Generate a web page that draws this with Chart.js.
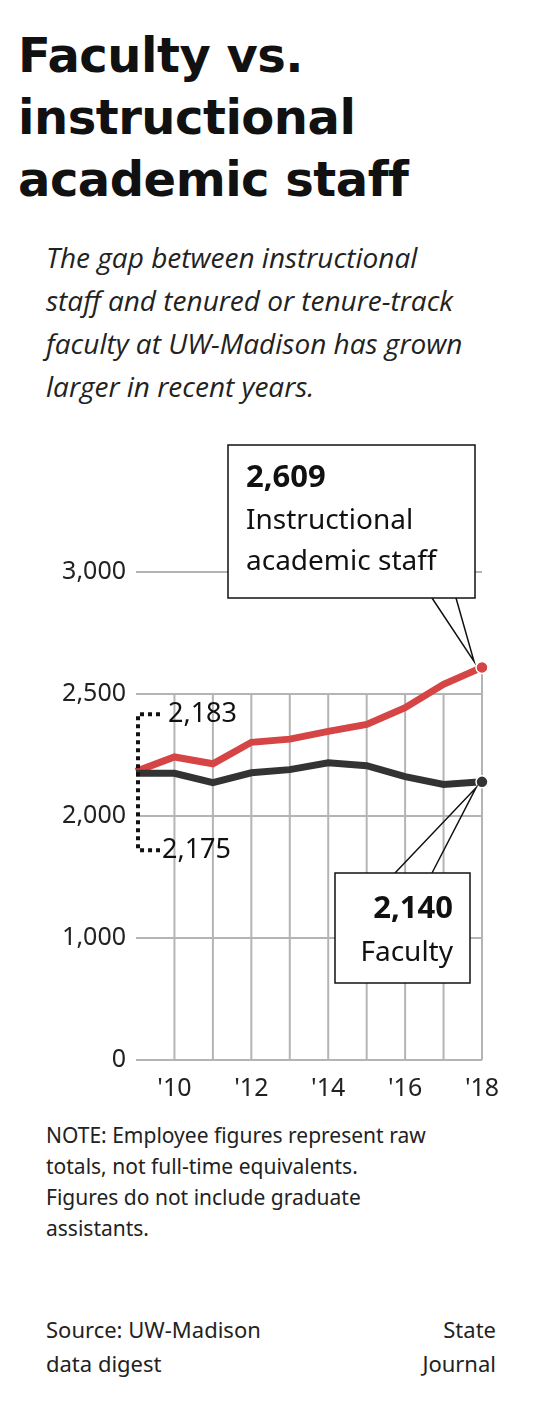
<!DOCTYPE html>
<html>
<head>
<meta charset="utf-8">
<script src="https://cdn.jsdelivr.net/npm/chart.js@4"></script>
<style>
  body { margin: 0; width: 533px; height: 1407px; background: #fff; position: relative; font-family: "Open Sans", sans-serif; color: #111; overflow: hidden; }
  #title { position: absolute; left: 18px; top: 24px; font: bold 48px/62px "DejaVu Sans", sans-serif; letter-spacing: -0.5px; margin: 0; white-space: nowrap; }
  #sub { position: absolute; left: 46px; top: 236px; width: 480px; font: italic 28px/43px "Open Sans", sans-serif; color: #222; white-space: nowrap; }
  #chart { position: absolute; left: 0; top: 430px; }
  #note { position: absolute; left: 46px; top: 1120px; width: 480px; font: 21px/31px "Noto Sans", sans-serif; color: #222; white-space: nowrap; }
  #src { position: absolute; left: 46px; top: 1312px; font: 22px/34px "Noto Sans", sans-serif; color: #222; }
  #credit { position: absolute; right: 37px; top: 1312px; text-align: right; font: 22px/34px "Noto Sans", sans-serif; color: #222; }
</style>
</head>
<body>
<h1 id="title">Faculty vs.<br>instructional<br>academic staff</h1>
<div id="sub">The gap between instructional<br>staff and tenured or tenure-track<br>faculty at UW-Madison has grown<br>larger in recent years.</div>
<canvas id="chart" width="533" height="680"></canvas>
<div id="note">NOTE: Employee figures represent raw<br>totals, not full-time equivalents.<br>Figures do not include graduate<br>assistants.</div>
<div id="src">Source: UW-Madison<br>data digest</div>
<div id="credit">State<br>Journal</div>
<script>
const years = [2009, 2010, 2011, 2012, 2013, 2014, 2015, 2016, 2017, 2018];
const yearLabels = ["", "'10", "", "'12", "", "'14", "", "'16", "", "'18"];
const staff = [2183, 2242, 2214, 2302, 2315, 2347, 2375, 2444, 2540, 2609];
const faculty = [2175, 2175, 2137, 2177, 2190, 2218, 2206, 2161, 2129, 2140];
const tickValues = [0, 1000, 2000, 2500, 3000];

// broken scale: 1,000 per step below 2,000, 500 per step above
const toAxis = v => v < 2000 ? v / 1000 : 2 + (v - 2000) / 500;
const fmt = v => v.toLocaleString('en-US');

const callouts = {
  id: 'callouts',
  beforeDatasetsDraw(chart) {
    const { ctx, scales: { x, y } } = chart;
    ctx.save();
    ctx.strokeStyle = '#b4b4b4';
    ctx.lineWidth = 2;
    years.forEach((yr, i) => {
      if (i === 0) return;
      const px = x.getPixelForValue(i);
      const top = i === years.length - 1 ? y.getPixelForValue(toAxis(staff[i])) : y.getPixelForValue(3);
      ctx.beginPath();
      ctx.moveTo(px, y.getPixelForValue(0));
      ctx.lineTo(px, top);
      ctx.stroke();
    });
    ctx.restore();
  },
  afterDraw(chart) {
    const { ctx, scales: { x, y } } = chart;
    const last = years.length - 1;
    const lx = x.getPixelForValue(last);
    const sy = y.getPixelForValue(toAxis(staff[last]));
    const fy = y.getPixelForValue(toAxis(faculty[last]));
    ctx.save();
    // dotted bracket for first values
    const bx = x.getPixelForValue(0) + 2;
    const t1 = y.getPixelForValue(toAxis(2183)) - 57;
    const t2 = y.getPixelForValue(toAxis(2175)) + 77;
    ctx.setLineDash([4, 4]);
    ctx.lineWidth = 4;
    ctx.strokeStyle = '#111';
    ctx.beginPath();
    ctx.moveTo(bx + 22, t1); ctx.lineTo(bx, t1); ctx.lineTo(bx, t2); ctx.lineTo(bx + 22, t2);
    ctx.stroke();
    ctx.setLineDash([]);
    ctx.fillStyle = '#111';
    ctx.font = '27px "Noto Sans", sans-serif';
    ctx.textBaseline = 'middle';
    ctx.fillText(fmt(staff[0]), bx + 30, t1);
    ctx.fillText(fmt(faculty[0]), bx + 24, t2);

    // staff callout
    ctx.lineWidth = 1.5;
    ctx.strokeStyle = '#111';
    const b1 = { l: 228, t: 445 - 430, r: 475, b: 598 - 430 };
    ctx.beginPath();
    ctx.moveTo(432, b1.b); ctx.lineTo(lx - 8, sy - 6); ctx.lineTo(456, b1.b);
    ctx.stroke();
    ctx.fillStyle = '#fff';
    ctx.fillRect(b1.l, b1.t, b1.r - b1.l, b1.b - b1.t);
    ctx.strokeRect(b1.l, b1.t, b1.r - b1.l, b1.b - b1.t);
    ctx.fillStyle = '#111';
    ctx.textBaseline = 'alphabetic';
    ctx.font = 'bold 31px "Noto Sans", sans-serif';
    ctx.fillText(fmt(staff[last]), 246, 57);
    ctx.font = '28px "Noto Sans", sans-serif';
    ctx.fillText('Instructional', 246, 99);
    ctx.fillText('academic staff', 246, 140);

    // faculty callout
    const b2 = { l: 335, t: 873 - 430, r: 470, b: 983 - 430 };
    ctx.beginPath();
    ctx.moveTo(395, b2.t); ctx.lineTo(lx - 6, fy + 6); ctx.lineTo(432, b2.t);
    ctx.stroke();
    ctx.fillStyle = '#fff';
    ctx.fillRect(b2.l, b2.t, b2.r - b2.l, b2.b - b2.t);
    ctx.strokeRect(b2.l, b2.t, b2.r - b2.l, b2.b - b2.t);
    ctx.fillStyle = '#111';
    ctx.textAlign = 'right';
    ctx.font = 'bold 31px "Noto Sans", sans-serif';
    ctx.fillText(fmt(faculty[last]), 453, b2.t + 45);
    ctx.font = '28px "Noto Sans", sans-serif';
    ctx.fillText('Faculty', 453, b2.t + 88);
    ctx.restore();
  }
};

const pointSizes = years.map((_, i) => i === years.length - 1 ? 6 : 0);

new Chart(document.getElementById('chart'), {
  type: 'line',
  data: {
    labels: yearLabels,
    datasets: [
      { data: faculty.map(toAxis), borderColor: '#333', backgroundColor: '#333', borderWidth: 7,
        pointRadius: pointSizes, pointBorderColor: '#fff', pointBorderWidth: 1.5, tension: 0 },
      { data: staff.map(toAxis), borderColor: '#d64545', backgroundColor: '#d64545', borderWidth: 7,
        pointRadius: pointSizes, pointBorderColor: '#fff', pointBorderWidth: 1.5, tension: 0 }
    ]
  },
  options: {
    responsive: false,
    animation: false,
    layout: { padding: { top: 142, right: 51, left: 0, bottom: 0 } },
    plugins: { legend: { display: false }, tooltip: { enabled: false } },
    scales: {
      x: {
        offset: false,
        grid: { display: false },
        border: { display: false },
        ticks: { color: '#222', font: { size: 25, family: '"Noto Sans", sans-serif' }, padding: 6, maxRotation: 0, autoSkip: false },
        afterFit: s => { s.height = 50; }
      },
      y: {
        min: 0, max: 4,
        afterBuildTicks: s => { s.ticks = tickValues.map(v => ({ value: toAxis(v) })); },
        ticks: { color: '#222', font: { size: 25, family: '"Noto Sans", sans-serif' }, padding: 10,
          callback: (v, i) => fmt(tickValues[i]) },
        grid: { color: '#b4b4b4', lineWidth: 2, drawTicks: false },
        border: { display: false },
        afterFit: s => { s.width = 136; }
      }
    }
  },
  plugins: [callouts]
});
</script>
</body>
</html>
